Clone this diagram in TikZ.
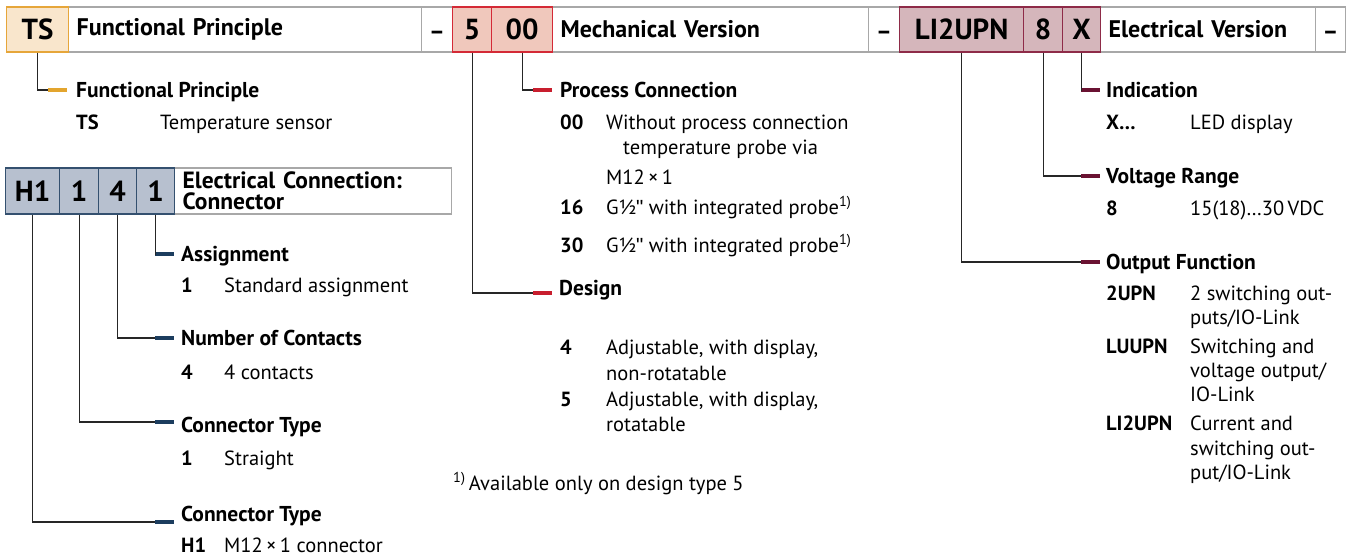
\documentclass[tikz,border=0pt]{standalone}
\usepackage{fontspec}
\setmainfont{PT Sans}
\newfontfamily\qfont{Liberation Sans}
\definecolor{orf}{HTML}{F9E6CC}
\definecolor{orb}{HTML}{E6A63A}
\definecolor{ors}{HTML}{E3A52E}
\definecolor{rdf}{HTML}{F0C8BC}
\definecolor{rdb}{HTML}{D42A36}
\definecolor{rds}{HTML}{C81E2E}
\definecolor{mvf}{HTML}{D5B6BB}
\definecolor{mvb}{HTML}{8E2B48}
\definecolor{mvs}{HTML}{6A1232}
\definecolor{blf}{HTML}{B7C0CF}
\definecolor{blb}{HTML}{34506F}
\definecolor{bls}{HTML}{1C3D5E}
\definecolor{grb}{HTML}{A8A8A8}
\newcommand{\dsh}{\smash{\raisebox{-9.5pt}{–}}}
\newcommand{\fnm}{\textsuperscript{1)}}
\newcommand{\inch}{{\qfont"}}
\begin{document}
\begin{tikzpicture}[x=1pt,y=-1pt,
 box/.style={draw=grb, line width=1.3pt, minimum height=45pt, inner sep=0pt, anchor=west, font=\fontsize{24}{26}\selectfont\bfseries},
 codebox/.style={box, font=\fontsize{29}{30}\selectfont\bfseries},
 tbox/.style={box, align=left, inner xsep=8pt},
 conn/.style={line width=1.2pt, draw=black!85},
 stub/.style={fill=#1, minimum width=19pt, minimum height=4.5pt, inner sep=0pt, anchor=east},
 lab/.style={anchor=base west, inner sep=0pt, yshift=-7.5pt, font=\fontsize{21.5}{24}\selectfont\bfseries},
 keyt/.style={anchor=base west, inner sep=0pt, yshift=-7.2pt, font=\fontsize{20.5}{24}\selectfont\bfseries},
 txt/.style={anchor=base west, inner sep=0pt, yshift=-7.2pt, font=\fontsize{20.5}{24}\selectfont},
]
\useasboundingbox (0,0) rectangle (1352,557);
% ---------- header row ----------
\node[tbox, text width=337pt] (fp) at (68,29.5) {Functional Principle};
\node[box, minimum width=31pt] (d1) at (421,29.5) {\dsh};
\node[tbox, text width=300pt] (mv) at (552,29.5) {Mechanical Version};
\node[box, minimum width=31pt] (d2) at (868,29.5) {\dsh};
\node[tbox, text width=199pt] (ev) at (1100,29.5) {Electrical Version};
\node[box, minimum width=30pt] (d3) at (1315,29.5) {\dsh};
\node[codebox, fill=orf, draw=orb, minimum width=62pt] (ts) at (6,29.5) {TS};
\node[codebox, fill=rdf, draw=rdb, minimum width=39pt] (c5) at (452,29.5) {5};
\node[codebox, fill=rdf, draw=rdb, minimum width=61pt] (c00) at (491,29.5) {00};
\node[codebox, fill=mvf, draw=mvb, minimum width=124pt] (cli) at (899,29.5) {LI2UPN};
\node[codebox, fill=mvf, draw=mvb, minimum width=39pt] (c8) at (1023,29.5) {8};
\node[codebox, fill=mvf, draw=mvb, minimum width=38pt] (cx) at (1062,29.5) {X};
% ---------- electrical connection row ----------
\node[tbox, minimum height=46pt, text width=261pt, font=\fontsize{23.5}{21}\selectfont\bfseries] (ec) at (174,191) {Electrical Connection:\\Connector};
\node[codebox, minimum height=46pt, fill=blf, draw=blb, minimum width=54pt] (h1) at (5,191) {H1};
\node[codebox, minimum height=46pt, fill=blf, draw=blb, minimum width=39pt] (e1) at (59,191) {1};
\node[codebox, minimum height=46pt, fill=blf, draw=blb, minimum width=38pt] (e4) at (98,191) {4};
\node[codebox, minimum height=46pt, fill=blf, draw=blb, minimum width=38pt] (e1b) at (136,191) {1};
% ---------- stubs ----------
\node[stub=ors] (sfp) at (67,90) {};
\node[stub=rds] (spc) at (552,90) {};
\node[stub=rds] (sdes) at (552,293) {};
\node[stub=mvs] (sind) at (1100,90) {};
\node[stub=mvs] (svr) at (1100,176) {};
\node[stub=mvs] (sof) at (1100,262) {};
\node[stub=bls] (sas) at (174,254) {};
\node[stub=bls] (snc) at (174,338) {};
\node[stub=bls] (sct) at (174,422) {};
\node[stub=bls] (sct2) at (174,522) {};
% ---------- connectors ----------
\draw[conn] (ts.south) |- (sfp.west);
\draw[conn] (c00.south) |- (spc.west);
\draw[conn] (c5.south) |- (sdes.west);
\draw[conn] (cx.south) |- (sind.west);
\draw[conn] (c8.south) |- (svr.west);
\draw[conn] (cli.south) |- (sof.west);
\draw[conn] (e1b.south) |- (sas.west);
\draw[conn] (e4.south) |- (snc.west);
\draw[conn] (e1.south) |- (sct.west);
\draw[conn] (h1.south) |- (sct2.west);
% ---------- functional principle ----------
\node[lab] (lfp) at (76,90) {Functional Principle};
\node[keyt] (kts) at (76,122) {TS};
\node[txt] (tts) at (160,122) {Temperature sensor};
% ---------- process connection ----------
\node[lab] (lpc) at (560,90) {Process Connection};
\node[keyt] (k00) at (560,122) {00};
\node[txt] (t00) at (606,122) {Without process connection};
\node[txt] (t00b) at (623,147) {temperature probe via};
\node[txt] (t00c) at (606,177) {M12\,×\,1};
\node[keyt] (k16) at (560,207) {16};
\node[txt] (t16) at (606,207) {G½\inch{} with integrated probe\fnm};
\node[keyt] (k30) at (560,245) {30};
\node[txt] (t30) at (606,245) {G½\inch{} with integrated probe\fnm};
% ---------- design ----------
\node[lab] (ldes) at (559,288) {Design};
\node[keyt] (k4d) at (560,347) {4};
\node[txt] (t4d) at (606,347) {Adjustable, with display,};
\node[txt] (t4db) at (606,373) {non-rotatable};
\node[keyt] (k5d) at (560,399) {5};
\node[txt] (t5d) at (606,399) {Adjustable, with display,};
\node[txt] (t5db) at (606,424) {rotatable};
\node[txt] (fn) at (453,483) {\fnm\,Available only on design type 5};
% ---------- electrical version ----------
\node[lab] (lind) at (1106,90) {Indication};
\node[keyt] (kx) at (1106,122) {X…};
\node[txt] (tx) at (1190,122) {LED display};
\node[lab] (lvr) at (1106,176) {Voltage Range};
\node[keyt] (k8) at (1106,208) {8};
\node[txt] (t8) at (1190,208) {15(18)…30\,VDC};
\node[lab] (lof) at (1106,262) {Output Function};
\node[keyt] (k2u) at (1106,293) {2UPN};
\node[txt] (t2u) at (1190,293) {2 switching out-};
\node[txt] (t2ub) at (1190,317) {puts/IO-Link};
\node[keyt] (klu) at (1106,346) {LUUPN};
\node[txt] (tlu) at (1190,346) {Switching and};
\node[txt] (tlub) at (1190,370) {voltage output/};
\node[txt] (tluc) at (1190,394) {IO-Link};
\node[keyt] (kli) at (1106,423) {LI2UPN};
\node[txt] (tli) at (1190,423) {Current and};
\node[txt] (tlib) at (1190,448) {switching out-};
\node[txt] (tlic) at (1190,472) {put/IO-Link};
% ---------- electrical connection ----------
\node[lab] (las) at (181,254) {Assignment};
\node[keyt] (k1a) at (181,285) {1};
\node[txt] (t1a) at (224,285) {Standard assignment};
\node[lab] (lnc) at (181,338) {Number of Contacts};
\node[keyt] (k4c) at (181,372) {4};
\node[txt] (t4c) at (224,372) {4 contacts};
\node[lab] (lct) at (181,425) {Connector Type};
\node[keyt] (k1s) at (181,458) {1};
\node[txt] (t1s) at (224,458) {Straight};
\node[lab] (lct2) at (181,514) {Connector Type};
\node[keyt] (kh1) at (181,545) {H1};
\node[txt] (th1) at (224,545) {M12\,×\,1 connector};
\end{tikzpicture}
\end{document}
